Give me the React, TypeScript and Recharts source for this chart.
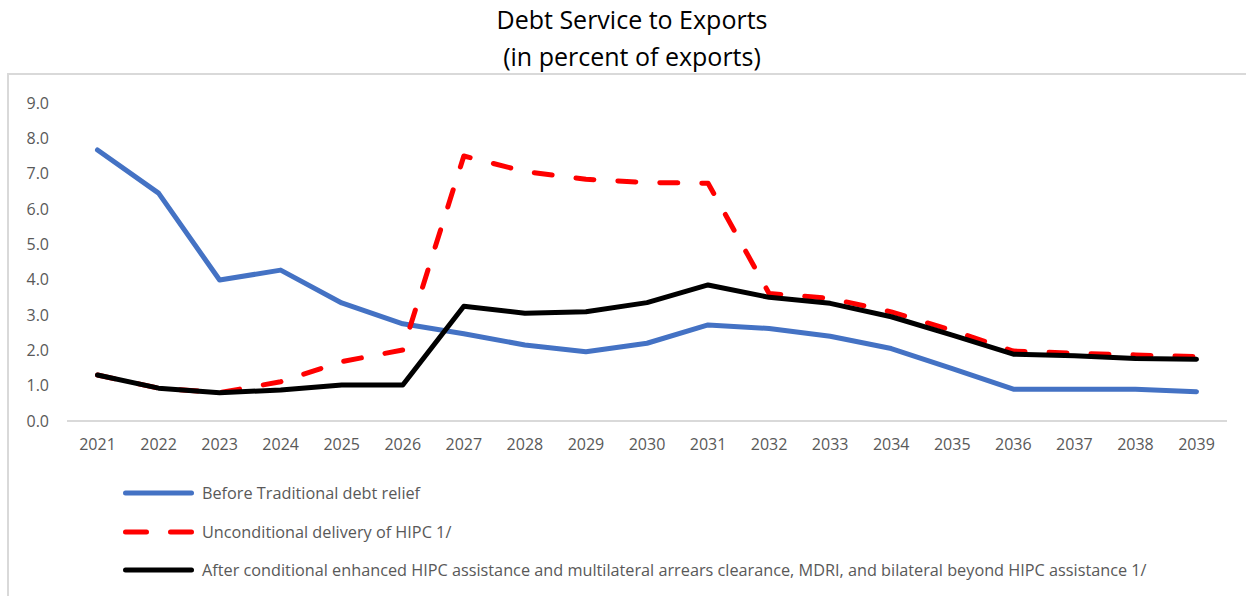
import React from 'react';
import { LineChart, Line, XAxis, YAxis, Legend } from 'recharts';

const years = [
  '2021', '2022', '2023', '2024', '2025', '2026', '2027', '2028', '2029', '2030',
  '2031', '2032', '2033', '2034', '2035', '2036', '2037', '2038', '2039'
];

const beforeTraditional = [
  7.67, 6.45, 3.99, 4.27, 3.34, 2.75, 2.47, 2.15, 1.96, 2.2,
  2.72, 2.62, 2.4, 2.05, 1.48, 0.9, 0.9, 0.9, 0.83
];

const unconditionalHipc = [
  1.3, 0.93, 0.8, 1.11, 1.68, 2.01, 7.5, 7.06, 6.84, 6.75,
  6.73, 3.61, 3.47, 3.09, 2.56, 1.98, 1.92, 1.87, 1.82
];

const afterConditional = [
  1.3, 0.93, 0.8, 0.88, 1.02, 1.02, 3.25, 3.05, 3.09, 3.35,
  3.85, 3.5, 3.33, 2.95, 2.43, 1.89, 1.85, 1.77, 1.75
];

const yTicks = [0, 1, 2, 3, 4, 5, 6, 7, 8, 9];

const seriesInfo = [
  { key: 'before', name: 'Before Traditional debt relief', color: '#4472C4', dash: undefined },
  { key: 'uncond', name: 'Unconditional delivery of HIPC 1/', color: '#FF0000', dash: '18 24' },
  {
    key: 'after',
    name: 'After conditional enhanced HIPC assistance and multilateral arrears clearance, MDRI, and bilateral beyond HIPC assistance 1/',
    color: '#000000',
    dash: undefined
  }
];

const data = years.map((year, i) => ({
  year,
  before: beforeTraditional[i],
  uncond: unconditionalHipc[i],
  after: afterConditional[i]
}));

const FONT = '"Open Sans", "Noto Sans", sans-serif';

const renderLegend = () => (
  <div style={{ height: 115, paddingLeft: 121, fontFamily: FONT, fontSize: 16.25, color: '#595959' }}>
    {seriesInfo.map((s) => (
      <div key={s.key} style={{ height: 38.35, display: 'flex', alignItems: 'center' }}>
        <svg width={81} height={10} style={{ display: 'block', flex: 'none' }}>
          <line
            x1={4.5}
            y1={5}
            x2={70.5}
            y2={5}
            stroke={s.color}
            strokeWidth={5}
            strokeLinecap="round"
            strokeDasharray={s.dash ? '21 24' : undefined}
          />
        </svg>
        <span style={{ whiteSpace: 'nowrap' }}>{s.name}</span>
      </div>
    ))}
  </div>
);

export default function App() {
  return (
    <div
      style={{
        position: 'absolute',
        left: 0,
        top: 0,
        width: 1246,
        height: 596,
        overflow: 'hidden',
        background: '#fff'
      }}
    >
      <div
        style={{
          position: 'absolute',
          left: 7,
          top: 73,
          width: 1250,
          height: 600,
          border: '2px solid #d9d9d9',
          boxSizing: 'border-box'
        }}
      />
      <div
        style={{
          position: 'absolute',
          left: 0,
          top: 1,
          width: 1264,
          textAlign: 'center',
          fontFamily: FONT,
          fontSize: 25,
          lineHeight: '37px',
          color: '#000'
        }}
      >
        Debt Service to Exports
        <br />
        (in percent of exports)
      </div>
      <div style={{ position: 'absolute', left: 0, top: 0 }}>
        <LineChart width={1246} height={596} data={data} margin={{ top: 103, right: 19, bottom: 7, left: 0 }}>
          <XAxis
            dataKey="year"
            padding={{ left: 30.5, right: 30.5 }}
            height={53}
            tickLine={false}
            tickSize={10}
            tickMargin={8}
            axisLine={{ stroke: '#d9d9d9', strokeWidth: 2 }}
            tick={{ fill: '#595959', fontSize: 16, fontFamily: FONT }}
            interval={0}
          />
          <YAxis
            width={67}
            domain={[0, 9]}
            ticks={yTicks}
            interval={0}
            axisLine={false}
            tickLine={false}
            tickSize={8}
            tickMargin={10}
            tickFormatter={(v: number) => v.toFixed(1)}
            tick={{ fill: '#595959', fontSize: 16, fontFamily: FONT }}
          />
          <Legend verticalAlign="bottom" align="left" content={renderLegend} />
          {seriesInfo.map((s) => (
            <Line
              key={s.key}
              type="linear"
              dataKey={s.key}
              name={s.name}
              stroke={s.color}
              strokeWidth={5}
              strokeDasharray={s.dash}
              strokeLinecap="round"
              strokeLinejoin="round"
              dot={false}
              activeDot={false}
              isAnimationActive={false}
            />
          ))}
        </LineChart>
      </div>
    </div>
  );
}
